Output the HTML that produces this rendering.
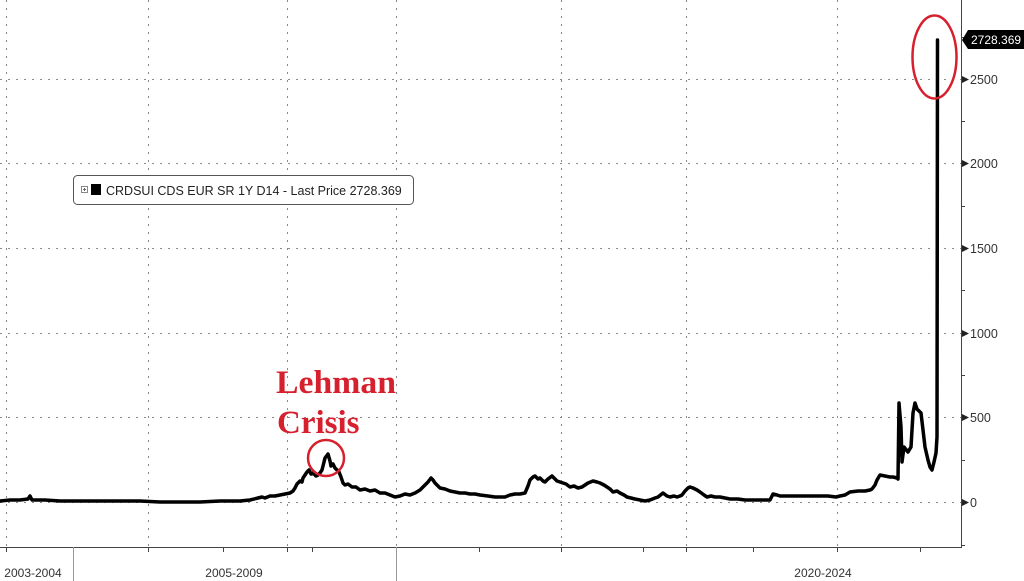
<!DOCTYPE html>
<html><head><meta charset="utf-8"><style>
html,body{margin:0;padding:0;background:#fff;}
svg{display:block;}
</style></head><body>
<svg width="1024" height="581" viewBox="0 0 1024 581" xmlns="http://www.w3.org/2000/svg">
<rect width="1024" height="581" fill="#fff"/>
<g stroke="#8a8a8a" stroke-width="1" stroke-dasharray="2 6" fill="none">
<line x1="0" y1="79.5" x2="961" y2="79.5"/>
<line x1="0" y1="163.5" x2="961" y2="163.5"/>
<line x1="0" y1="248.5" x2="961" y2="248.5"/>
<line x1="0" y1="333.5" x2="961" y2="333.5"/>
<line x1="0" y1="417.5" x2="961" y2="417.5"/>
<line x1="0" y1="502.5" x2="961" y2="502.5"/>
<line x1="6.5" y1="0" x2="6.5" y2="547"/>
<line x1="148.5" y1="0" x2="148.5" y2="547"/>
<line x1="287.5" y1="0" x2="287.5" y2="547"/>
<line x1="396.5" y1="0" x2="396.5" y2="547"/>
<line x1="561.5" y1="0" x2="561.5" y2="547"/>
<line x1="686.5" y1="0" x2="686.5" y2="547"/>
<line x1="837.5" y1="0" x2="837.5" y2="547"/>
</g>
<g stroke="#444" stroke-width="1" fill="none">
<line x1="0" y1="547.5" x2="962" y2="547.5"/>
<line x1="961.5" y1="0" x2="961.5" y2="548"/>
</g>
<g stroke="#444" stroke-width="1">
<line x1="6.5" y1="547" x2="6.5" y2="552"/>
<line x1="148.5" y1="547" x2="148.5" y2="552"/>
<line x1="223.5" y1="547" x2="223.5" y2="552"/>
<line x1="287.5" y1="547" x2="287.5" y2="552"/>
<line x1="312.5" y1="547" x2="312.5" y2="552"/>
<line x1="479.5" y1="547" x2="479.5" y2="552"/>
<line x1="561.5" y1="547" x2="561.5" y2="552"/>
<line x1="643.5" y1="547" x2="643.5" y2="552"/>
<line x1="686.5" y1="547" x2="686.5" y2="552"/>
<line x1="753.5" y1="547" x2="753.5" y2="552"/>
<line x1="837.5" y1="547" x2="837.5" y2="552"/>
<line x1="920.5" y1="547" x2="920.5" y2="552"/>
<line x1="961" y1="37.5" x2="965" y2="37.5"/>
<line x1="961" y1="121.5" x2="965" y2="121.5"/>
<line x1="961" y1="206.5" x2="965" y2="206.5"/>
<line x1="961" y1="290.5" x2="965" y2="290.5"/>
<line x1="961" y1="375.5" x2="965" y2="375.5"/>
<line x1="961" y1="460.5" x2="965" y2="460.5"/>
<line x1="961" y1="545.5" x2="965" y2="545.5"/>
</g>
<g stroke="#999" stroke-width="1">
<line x1="73.5" y1="547" x2="73.5" y2="581"/>
<line x1="396.5" y1="547" x2="396.5" y2="581"/>
</g>
<g fill="#222">
<polygon points="962,76 969,79.5 962,83"/>
<polygon points="962,160 969,163.5 962,167"/>
<polygon points="962,245 969,248.5 962,252"/>
<polygon points="962,330 969,333.5 962,337"/>
<polygon points="962,414 969,417.5 962,421"/>
<polygon points="962,499 969,502.5 962,506"/>
</g>
<g font-family="Liberation Sans, sans-serif" font-size="12.5" fill="#333">
<text x="970" y="84">2500</text>
<text x="970" y="168">2000</text>
<text x="970" y="253">1500</text>
<text x="970" y="338">1000</text>
<text x="970" y="422">500</text>
<text x="970" y="507">0</text>
</g>
<g font-family="Liberation Sans, sans-serif" font-size="12" fill="#333">
<text x="33" y="577" text-anchor="middle">2003-2004</text>
<text x="234" y="577" text-anchor="middle">2005-2009</text>
<text x="823" y="577" text-anchor="middle">2020-2024</text>
</g>
<polygon points="962,40 968,30 1024,30 1024,49 968,49" fill="#000"/>
<text x="971" y="44" font-family="Liberation Sans, sans-serif" font-size="12" fill="#fff">2728.369</text>
<rect x="73.5" y="175.5" width="340" height="29" rx="4" ry="4" fill="#fff" stroke="#555" stroke-width="1"/>
<rect x="81.5" y="186.5" width="6" height="6" fill="#fff" stroke="#888" stroke-width="1"/>
<line x1="83" y1="189.5" x2="86" y2="189.5" stroke="#666"/>
<line x1="84.5" y1="188" x2="84.5" y2="191" stroke="#666"/>
<rect x="91" y="184" width="10" height="11" fill="#000"/>
<text x="106" y="195" font-family="Liberation Sans, sans-serif" font-size="12.5" fill="#222">CRDSUI CDS EUR SR 1Y D14 - Last Price 2728.369</text>
<polyline fill="none" stroke="#000" stroke-width="3.5" stroke-linejoin="round" stroke-linecap="round" points="0,501 10,500 20,500 28,499 30,496 32,500 45,500 60,501 80,501 100,501 120,501 140,501 160,502 180,502 200,502 220,501 240,501 250,500 258,498 262,497 265,498 270,496 275,496 280,495 285,494 290,493 293,491 295,488 297,484 300,481 302,482 303,478 305,475 307,472 309,470 311,474 313,473 316,476 318,475 320,473 322,470 325,458 328,454 330,461 331,466 333,464 335,468 339,472 341,477 343,483 345,485 348,484 352,487 356,487 360,490 365,489 370,491 375,490 380,493 385,493 390,495 395,497 400,496 405,494 410,495 415,493 420,490 425,485 428,482 431,478 433,480 435,483 440,488 445,489 450,491 455,492 460,493 465,493 470,494 475,494 480,495 488,496 495,497 500,497 505,497 510,495 515,494 520,494 525,493 528,486 530,480 533,477 535,476 538,479 540,478 543,481 545,482 548,479 552,476 555,479 557,481 560,482 563,483 566,484 570,487 574,486 578,488 582,487 585,485 588,483 593,481 597,482 600,483 604,485 607,487 610,489 613,492 617,491 620,493 624,495 627,497 631,498 635,499 640,500 645,501 650,500 655,498 658,497 663,493 667,496 670,497 674,496 677,497 680,496 682,495 685,491 688,488 690,487 693,488 697,490 700,492 704,495 707,497 711,496 715,497 720,497 725,498 730,499 738,499 745,500 752,500 760,500 770,500 773,494 777,495 780,496 790,496 800,496 810,496 820,496 828,496 836,497 840,496 845,495 850,492 858,491 865,491 870,490 872,489 875,485 877,480 880,475 885,476 890,477 893,477 897,478 898,479 899,403 901,427 902,462 904,447 908,452 911,447 913,413 915,403 917,409 921,413 923,430 925,447 928,460 930,467 932,470 934,462 936,453 937,437 937.5,40"/>
<ellipse cx="934.5" cy="57" rx="22" ry="41.5" fill="none" stroke="#d6202e" stroke-width="2.5"/>
<circle cx="326" cy="458" r="18" fill="none" stroke="#d6202e" stroke-width="2.5"/>
<g font-family="Liberation Serif, serif" font-weight="bold" font-size="33" fill="#d6202e">
<text x="276" y="393" textLength="120" lengthAdjust="spacingAndGlyphs">Lehman</text>
<text x="277" y="433">Crisis</text>
</g>
</svg>
</body></html>
